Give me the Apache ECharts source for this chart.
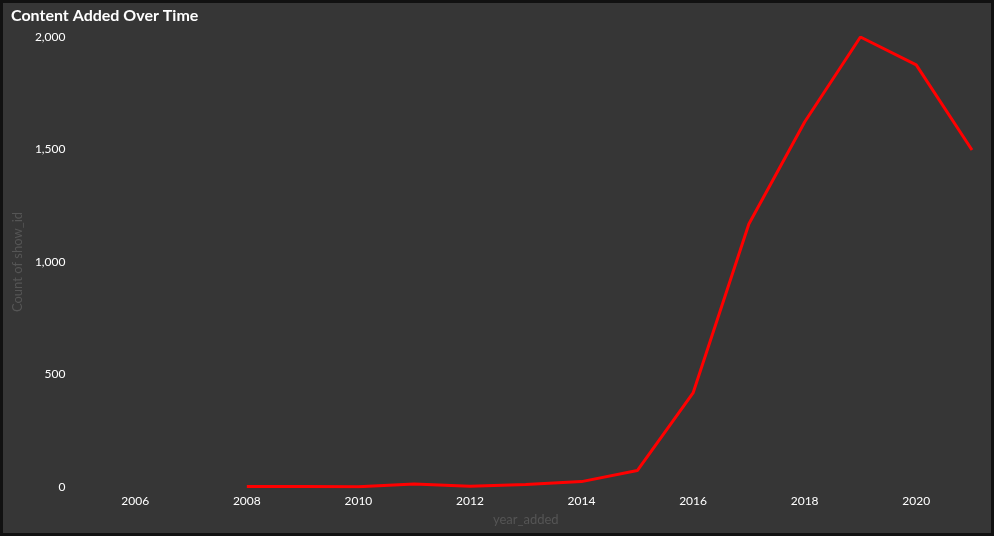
<!DOCTYPE html>
<html><head><meta charset="utf-8">
<script src="https://cdn.jsdelivr.net/npm/echarts@6/dist/echarts.min.js"></script>
<style>html,body{margin:0;padding:0;background:#000}#c{width:994px;height:536px;box-sizing:border-box;border:3px solid #111;background:#363636}</style>
</head><body><div id="c"></div>
<script>
const years = [2008,2009,2010,2011,2012,2013,2014,2015,2016,2017,2018,2019,2020,2021];
const counts = [2,2,1,13,3,11,24,73,418,1169,1622,2000,1876,1498];
const chart = echarts.init(document.getElementById('c'));
chart.setOption({
  backgroundColor:'#363636',
  title:{text:'Content Added Over Time',left:3,top:0,textStyle:{color:'#fff',fontSize:16,fontWeight:'bold',fontFamily:'Lato'}},
  grid:{left:72,right:19,top:34,bottom:46},
  xAxis:{type:'value',min:2005,max:2021,interval:1,name:'year_added',nameLocation:'middle',nameGap:26,
    nameTextStyle:{color:'#555',fontSize:13,fontFamily:'Lato'},
    axisLine:{show:false},axisTick:{show:false},splitLine:{show:false},
    axisLabel:{color:'#fff',fontSize:12,fontFamily:'Lato',formatter:v=>v%2===0?String(v):''}},
  yAxis:{type:'value',min:0,max:2000,interval:500,name:'Count of show_id',nameLocation:'middle',nameGap:52,
    nameTextStyle:{color:'#555',fontSize:13,fontFamily:'Lato'},
    axisLine:{show:false},axisTick:{show:false},splitLine:{show:false},
    axisLabel:{color:'#fff',fontSize:12,fontFamily:'Lato',margin:14,formatter:v=>v.toLocaleString('en-US')}},
  series:[{type:'line',data:years.map((y,i)=>[y,counts[i]]),showSymbol:false,lineStyle:{color:'#ff0000',width:3},itemStyle:{color:'#ff0000'}}]
});
</script></body></html>
